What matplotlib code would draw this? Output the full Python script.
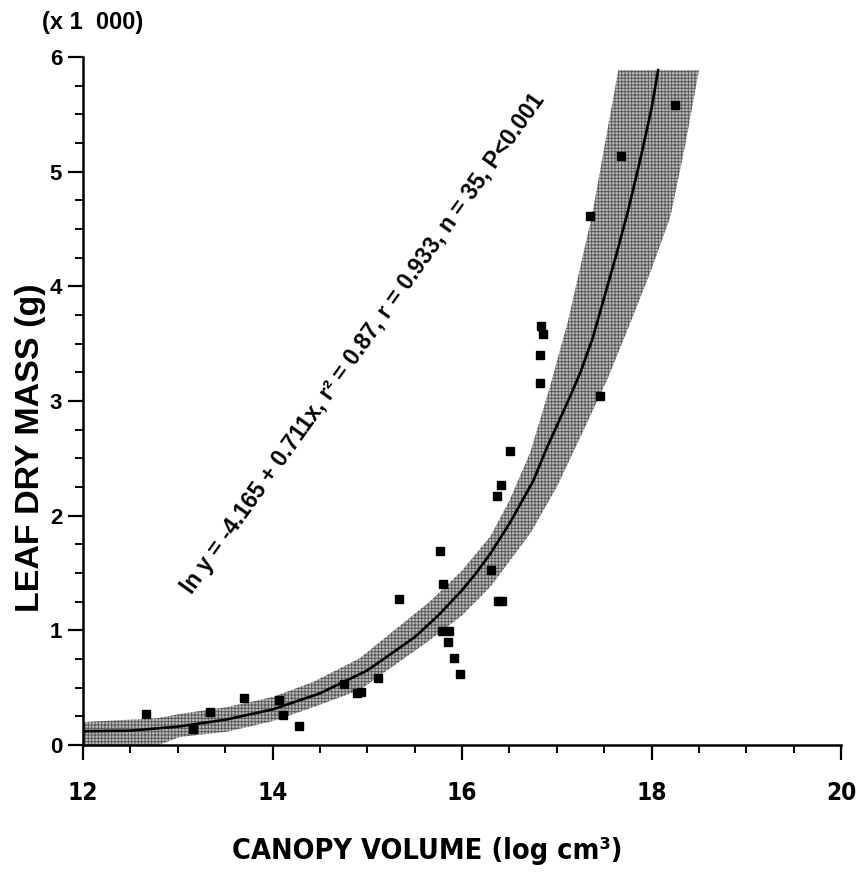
import os
import numpy as np
import matplotlib.pyplot as plt
from matplotlib import font_manager
from matplotlib.font_manager import FontProperties
from matplotlib.ticker import MultipleLocator

# the original uses a condensed bold Helvetica for the x axis; pick the narrowest bold sans we have
wanted = ['LiberationSansNarrow-Bold.ttf', 'NotoSans-ExtraCondensedBold.ttf',
          'NotoSans-CondensedBold.ttf', 'DejaVuSansCondensed-Bold.ttf']
files = {os.path.basename(f.fname): f.fname for f in font_manager.fontManager.ttflist}
narrow_file = next((files[w] for w in wanted if w in files), None)


def narrow(size):
    if narrow_file:
        return FontProperties(fname=narrow_file, size=size)
    return FontProperties(family='Liberation Sans', weight='bold', size=size * 0.8)


WIDE = dict(family=['Liberation Sans', 'DejaVu Sans'], fontweight='bold')
plt.rcParams['hatch.linewidth'] = 0.7

# observations: canopy volume (log cm3) vs leaf dry mass (g, x 1000)
canopy = [12.67, 13.16, 13.34, 13.70, 14.07, 14.11, 14.28, 14.75, 14.89, 14.93,
          15.11, 15.34, 15.77, 15.80, 15.79, 15.86, 15.85, 15.92, 15.98, 16.31,
          16.38, 16.42, 16.37, 16.41, 16.51, 16.83, 16.85, 16.82, 16.82, 17.46,
          17.35, 17.68, 18.25]
leaf_mass = [0.27, 0.14, 0.29, 0.41, 0.39, 0.26, 0.17, 0.53, 0.45, 0.46,
             0.58, 1.27, 1.69, 1.40, 0.99, 0.99, 0.90, 0.76, 0.62, 1.53,
             1.26, 1.26, 2.17, 2.27, 2.56, 3.65, 3.58, 3.40, 3.16, 3.04,
             4.61, 5.14, 5.58]

# fitted curve
fit_x = [12.0, 12.5, 13.0, 13.5, 14.0, 14.5, 15.0, 15.5, 15.75, 16.0, 16.15, 16.3,
         16.5, 16.75, 16.9, 17.12, 17.25, 17.38, 17.5, 17.62, 17.75, 17.88, 18.0, 18.07]
fit_y = [0.12, 0.125, 0.16, 0.22, 0.31, 0.45, 0.65, 0.94, 1.13, 1.35, 1.50, 1.67,
         1.93, 2.3, 2.6, 3.0, 3.25, 3.55, 3.9, 4.25, 4.65, 5.1, 5.55, 5.885]

# confidence band edges
upper_x = [12.0, 12.78, 13.02, 13.52, 14.01, 14.43, 14.92, 15.66, 16.0, 16.3,
           16.5, 16.72, 16.92, 17.12, 17.37, 17.65]
upper_y = [0.20, 0.233, 0.27, 0.33, 0.42, 0.55, 0.756, 1.25, 1.52, 1.82,
           2.13, 2.55, 3.1, 3.70, 4.61, 5.885]
lower_x = [12.0, 12.8, 13.02, 13.52, 14.01, 14.43, 14.92, 15.66, 16.0, 16.30,
           16.72, 17.0, 17.30, 17.55, 17.80, 18.0, 18.20, 18.36, 18.50]
lower_y = [0.0, 0.0, 0.07, 0.116, 0.21, 0.33, 0.48, 0.915, 1.13, 1.38,
           1.845, 2.25, 2.775, 3.22, 3.73, 4.15, 4.61, 5.25, 5.885]

fig = plt.figure(figsize=(8.56, 8.72), dpi=100)
ax = fig.add_axes([83 / 856, 1 - 745 / 872, (841 - 83) / 856, (745 - 57) / 872])

ax.fill(np.concatenate([upper_x, lower_x[::-1]]),
        np.concatenate([upper_y, lower_y[::-1]]),
        facecolor='#bcbcbc', edgecolor='#5a5a5a', hatch='+++++', linewidth=0, zorder=1)
ax.plot(fit_x, fit_y, color='black', linewidth=1.9, zorder=2)
ax.plot(canopy, leaf_mass, linestyle='none', marker='s', markersize=6.2,
        color='black', zorder=3)

ax.set_xlim(12, 20)
ax.set_ylim(0, 6)
ax.set_xticks([12, 14, 16, 18, 20])
ax.xaxis.set_minor_locator(MultipleLocator(0.5))
ax.yaxis.set_major_locator(MultipleLocator(1))
ax.yaxis.set_minor_locator(MultipleLocator(0.25))

for side in ['top', 'right']:
    ax.spines[side].set_visible(False)
for side in ['left', 'bottom']:
    ax.spines[side].set_linewidth(1.8)

ax.tick_params(which='major', direction='out', length=11, width=1.6)
ax.tick_params(which='minor', direction='out', length=5.5, width=1.4)
ax.tick_params(axis='x', which='major', pad=15)
ax.tick_params(axis='y', which='major', pad=4)
for lab in ax.get_xticklabels():
    lab.set_fontproperties(narrow(17.5))
for lab in ax.get_yticklabels():
    lab.update(WIDE)
    lab.set_fontsize(16)

xlab = fig.text(427 / 856, 1 - 851 / 872, 'CANOPY VOLUME (log cm³)',
                fontproperties=narrow(29), ha='center', va='center')
fig.text(31 / 856, 1 - 448 / 872, 'LEAF DRY MASS (g)', fontsize=24.5,
         rotation=90, ha='center', va='center', **WIDE)
fig.text(42 / 856, 1 - 22 / 872, '(x 1  000)', fontsize=17,
         ha='left', va='center', **WIDE)

ax.text(14.96, 3.50, 'ln y = -4.165 + 0.711x, r² = 0.87, r = 0.933, n = 35, P<0.001',
        fontsize=16.5, rotation=54.5, rotation_mode='anchor',
        ha='center', va='center', **WIDE)

# keep the axis title no wider than in the original
renderer = fig.canvas.get_renderer()
w = xlab.get_window_extent(renderer).width
if w > 390:
    xlab.set_fontsize(xlab.get_fontsize() * 390 / w)

fig.savefig('out.png', dpi=100)
